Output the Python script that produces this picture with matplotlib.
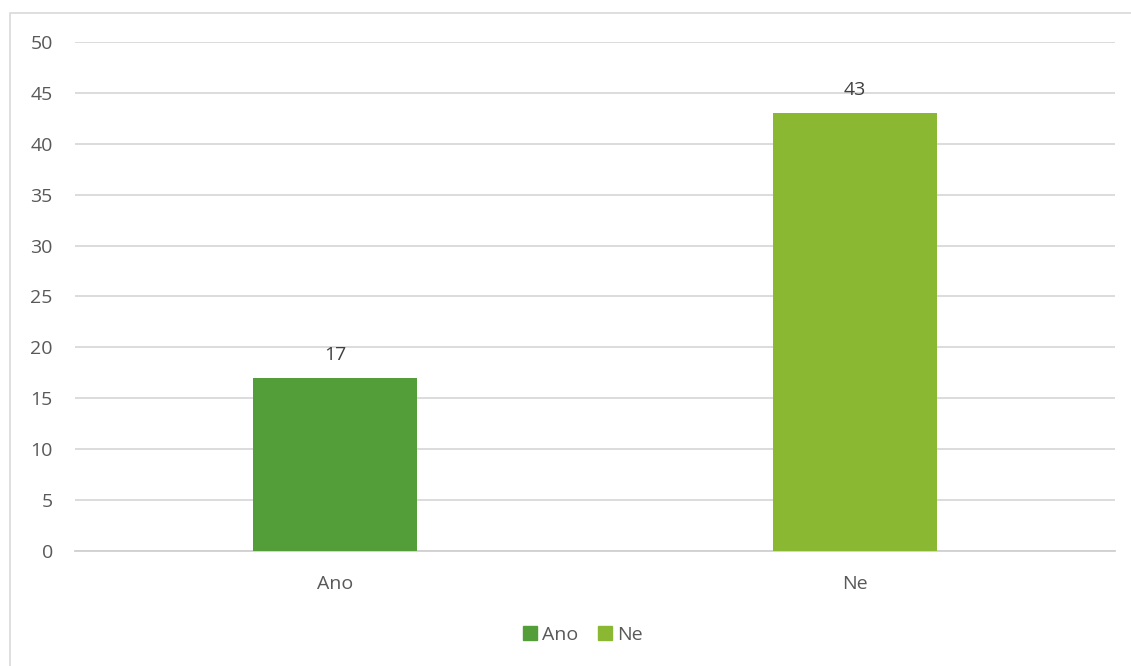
import matplotlib
matplotlib.use("Agg")
import matplotlib.pyplot as plt
from matplotlib.patches import Rectangle, Patch

categories = ["Ano", "Ne"]
values = [17, 43]
colors = ["#549E39", "#8AB833"]
yticks = [0, 5, 10, 15, 20, 25, 30, 35, 40, 45, 50]

plt.rcParams['font.family'] = ['Open Sans', 'DejaVu Sans']

fig = plt.figure(figsize=(11.31, 6.66), dpi=100)
W, H = 1131, 666
fig.patches.append(Rectangle((10 / W, -0.1), 1.2, 1 - 13 / H + 0.1, transform=fig.transFigure,
                             fill=False, edgecolor="#d9d9d9", linewidth=1.2))

ax = fig.add_axes([75 / W, 1 - 551 / H, (1115 - 75) / W, (551 - 42) / H])
x = list(range(len(categories)))
bars = ax.bar(x, values, width=0.315, color=colors, zorder=3)
ax.set_xlim(-0.5, 1.5)
ax.set_ylim(0, 50)
ax.set_yticks(yticks)
ax.set_xticks(x)
ax.set_xticklabels(categories)
ax.grid(axis="y", color="#d9d9d9", linewidth=1.3, zorder=0)
for s in ["top", "right", "left"]:
    ax.spines[s].set_visible(False)
ax.spines["bottom"].set_color("#d0d0d0")
ax.spines["bottom"].set_linewidth(1.3)
ax.tick_params(axis="y", length=0, pad=16, labelsize=14, labelcolor="#595959")
ax.tick_params(axis="x", length=0, pad=17, labelsize=14, labelcolor="#595959")

for b, v in zip(bars, values):
    ax.annotate(str(v), (b.get_x() + b.get_width() / 2, v), xytext=(0, 10),
                textcoords="offset points", ha="center", va="bottom",
                fontsize=14, color="#404040")

handles = [Patch(color=c, label=l) for c, l in zip(colors, categories)]
fig.legend(handles=handles, loc="center", bbox_to_anchor=(583 / W, 1 - 635 / H), ncol=2,
           frameon=False, fontsize=14, handlelength=0.7, handleheight=0.7,
           handletextpad=0.3, columnspacing=1.0, labelcolor="#595959")

fig.savefig("out.png", dpi=100)
